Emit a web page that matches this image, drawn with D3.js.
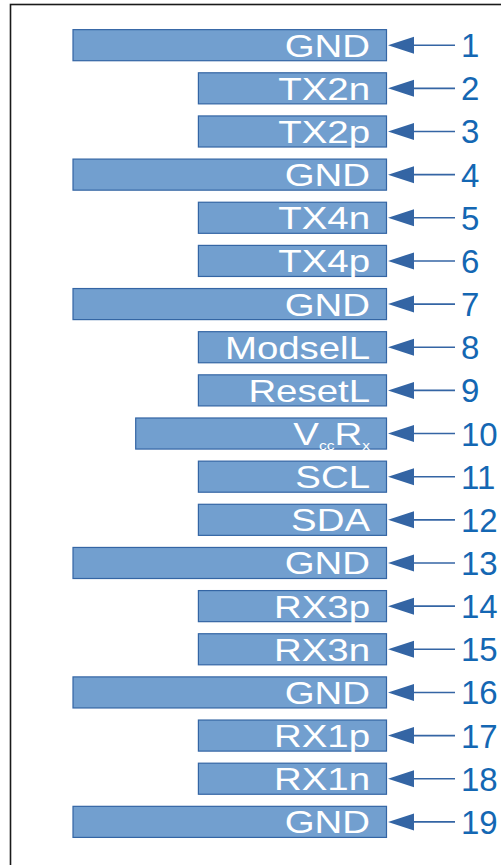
<!DOCTYPE html>
<html><head><meta charset="utf-8">
<script src="https://cdn.jsdelivr.net/npm/d3@7"></script>
<style>html,body{margin:0;padding:0;background:#fff;overflow:hidden}</style>
</head><body>
<script>
const pins = [1,2,3,4,5,6,7,8,9,10,11,12,13,14,15,16,17,18,19];
const labels = ["GND","TX2n","TX2p","GND","TX4n","TX4p","GND","ModselL","ResetL","VccRx","SCL","SDA","GND","RX3p","RX3n","GND","RX1p","RX1n","GND"];
const lengths = [5,3,3,5,3,3,5,3,3,4,3,3,5,3,3,5,3,3,5];

const W = 501, H = 865;
const svg = d3.select("body").append("svg").attr("width", W).attr("height", H);

svg.append("rect").attr("x", 10.5).attr("y", 4.5).attr("width", 700).attr("height", 1200)
  .attr("fill", "none").attr("stroke", "#1a1a1a").attr("stroke-width", 1.6);

const x = d3.scaleLinear().domain([0, 5]).range([386.5, 73]);
const y = d3.scaleBand().domain(pins).range([23.6, 23.6 + 19 * 43.15]).paddingInner(0.28).paddingOuter(0.14);

const data = pins.map((p, i) => ({pin: p, label: labels[i], len: lengths[i]}));

const g = svg.append("g");
const row = g.selectAll("g.row").data(data).join("g").attr("class", "row");

row.append("rect")
  .attr("x", d => x(d.len)).attr("y", d => y(d.pin))
  .attr("width", d => x(0) - x(d.len)).attr("height", y.bandwidth())
  .attr("fill", "#729fcf").attr("stroke", "#3465a4").attr("stroke-width", 1.2);

const cy = d => y(d.pin) + y.bandwidth() / 2;

// arrow line
row.append("line")
  .attr("x1", x(0) + 24).attr("x2", 455)
  .attr("y1", d => cy(d)).attr("y2", d => cy(d))
  .attr("stroke", "#3465a4").attr("stroke-width", 1.6);
// arrow head
row.append("path")
  .attr("d", d => { const c = cy(d), t = x(0) + 1.5; return `M${t},${c} L${t + 26},${c - 8.5} L${t + 26},${c + 8.5} Z`; })
  .attr("fill", "#3465a4");

// pin numbers
row.append("text")
  .attr("x", 461).attr("y", d => cy(d) + 12)
  .attr("font-family", "Liberation Sans, Arial, sans-serif").attr("font-size", 33)
  .attr("fill", "#1467b3").text(d => d.pin);

// labels (horizontally stretched)
const lab = row.append("text")
  .attr("transform", d => `translate(370,${cy(d) + 11.5}) scale(1.2,1)`)
  .attr("text-anchor", "end")
  .attr("font-family", "Liberation Sans, Arial, sans-serif").attr("font-size", 32)
  .attr("fill", "#ffffff");

lab.each(function(d) {
  const t = d3.select(this);
  if (d.label === "VccRx") {
    t.append("tspan").text("V");
    t.append("tspan").attr("font-size", 13).attr("dy", 5).text("cc");
    t.append("tspan").attr("dy", -5).text("R");
    t.append("tspan").attr("font-size", 13).attr("dy", 5).text("x");
  } else {
    t.text(d.label);
  }
});
</script>
</body></html>
